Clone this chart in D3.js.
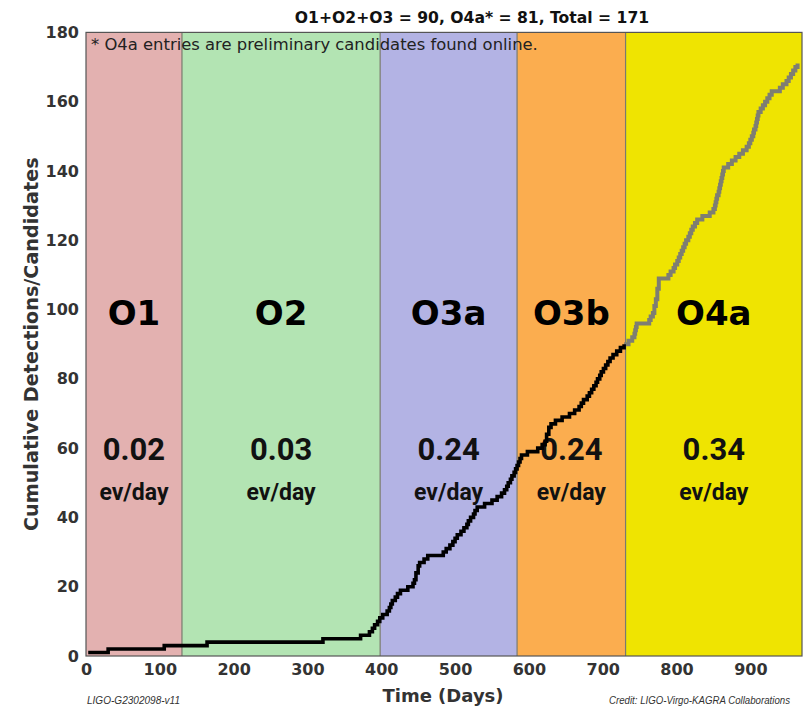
<!DOCTYPE html>
<html>
<head>
<meta charset="utf-8">
<script src="https://cdn.jsdelivr.net/npm/d3@7"></script>
<style>
  html, body { margin: 0; padding: 0; background: #fff; }
  svg { display: block; }
</style>
</head>
<body>
<svg id="chart" width="812" height="708"></svg>
<script>
// Observing runs: name, start/end (cumulative observing days), fill, rate label
const runNames  = ["O1", "O2", "O3a", "O3b", "O4a"];
const runStarts = [0, 130, 398.5, 584, 731];
const runEnds   = [130, 398.5, 584, 731, 970];
const runColors = ["#e3b1b0", "#b3e4b3", "#b3b3e4", "#fbad4f", "#efe401"];
const runRates  = ["0.02", "0.03", "0.24", "0.24", "0.34"];

// Confirmed detections (O1–O3): cumulative count vs observing day
const confirmedDays = [3, 30, 106, 164, 321, 372, 384, 388, 391, 395, 398,
  402, 408, 411, 413, 415, 419, 422, 426, 436, 443, 445, 447, 450, 452, 458, 463,
  484, 488, 493, 497, 500, 503, 508, 512, 516, 518, 521, 525, 527, 530, 540, 550,
  557, 563, 567, 570, 572, 575, 577, 580, 582, 584,
  586, 588, 590, 598, 612, 618, 622, 624, 627, 630, 636, 645, 655, 662, 668, 671,
  674, 679, 682, 685, 688, 691, 693, 696, 698, 701, 704, 707, 710, 714, 719, 724, 729];
const confirmedCounts = [1, 2, 3, 4, 5, 6, 7, 8, 9, 10, 11,
  12, 13, 14, 15, 16, 17, 18, 19, 20, 21, 22, 24, 26, 27, 28, 29,
  30, 31, 32, 33, 34, 35, 36, 37, 38, 39, 40, 41, 42, 43, 44, 45,
  46, 47, 48, 49, 50, 51, 52, 53, 54, 55,
  56, 57, 58, 59, 60, 61, 62, 64, 66, 67, 68, 69, 70, 71, 72, 73,
  74, 75, 76, 77, 78, 79, 80, 81, 82, 83, 84, 85, 86, 87, 88, 89, 90];

// Preliminary O4a candidates (online), continuing the cumulative count
const candidateDays = [729, 735, 740, 743, 744, 745, 746, 763, 765, 768, 770, 772, 774,
  776, 789, 792, 796, 798, 801, 803, 805, 807, 809, 811, 813, 816, 818, 820, 822,
  825, 828, 835, 845, 850, 852, 853, 854, 855, 857, 858, 859, 860, 861, 862, 863,
  864, 870, 875, 880, 885, 890, 895, 898, 900, 902, 904, 905, 907, 908, 909, 910,
  911, 914, 917, 920, 923, 926, 929, 940, 944, 949, 952, 955, 958, 961, 964];
const candidateCounts = [90, 91, 92, 93, 94, 95, 96, 97, 98, 99, 101, 103, 106,
  109, 110, 111, 112, 113, 114, 115, 116, 117, 118, 119, 120, 121, 122, 123, 124,
  125, 126, 127, 128, 129, 130, 131, 132, 133, 134, 135, 136, 137, 138, 139, 140,
  141, 142, 143, 144, 145, 146, 147, 148, 149, 150, 151, 152, 153, 154, 155, 156,
  157, 158, 159, 160, 161, 162, 163, 164, 165, 166, 167, 168, 169, 170, 171];

const xTicks = [0, 100, 200, 300, 400, 500, 600, 700, 800, 900];
const yTicks = [0, 20, 40, 60, 80, 100, 120, 140, 160, 180];

const titleText = "O1+O2+O3 = 90, O4a* = 81, Total = 171";
const noteText = "* O4a entries are preliminary candidates found online.";

// ---- layout ----
const svg = d3.select("#chart");
const W = 812, H = 708;
const m = { left: 86, right: 10, top: 32.4, bottom: 52 };

const x = d3.scaleLinear().domain([0, 970]).range([m.left, W - m.right]);
const y = d3.scaleLinear().domain([0, 180]).range([H - m.bottom, m.top]);

const runs = runNames.map((n, i) => ({
  name: n, start: runStarts[i], end: runEnds[i], color: runColors[i], rate: runRates[i]
}));

// run bands
svg.append("g").selectAll("rect").data(runs).join("rect")
  .attr("x", d => x(d.start))
  .attr("y", y(180))
  .attr("width", d => x(d.end) - x(d.start))
  .attr("height", y(0) - y(180))
  .attr("fill", d => d.color);

// band separators
svg.append("g").selectAll("line").data(runs.slice(1)).join("line")
  .attr("x1", d => x(d.start)).attr("x2", d => x(d.start))
  .attr("y1", y(180)).attr("y2", y(0))
  .attr("stroke", "#7a7a6e").attr("stroke-width", 1.2);

// run names and rates
const labels = svg.append("g").selectAll("g").data(runs).join("g")
  .attr("transform", d => `translate(${(x(d.start) + x(d.end)) / 2},0)`);
labels.append("text")
  .attr("y", 325)
  .attr("text-anchor", "middle")
  .attr("font-family", "DejaVu Sans")
  .attr("font-weight", "bold")
  .attr("font-size", 34)
  .attr("fill", "#000")
  .text(d => d.name);
labels.append("text")
  .attr("y", 460)
  .attr("text-anchor", "middle")
  .attr("font-family", "Roboto")
  .attr("font-weight", "bold")
  .attr("font-size", 31)
  .attr("fill", "#111")
  .text(d => d.rate);
labels.append("text")
  .attr("y", 500)
  .attr("text-anchor", "middle")
  .attr("font-family", "Roboto")
  .attr("font-weight", "bold")
  .attr("font-size", 23)
  .attr("fill", "#111")
  .text("ev/day");

// cumulative curves
const line = d3.line()
  .x(d => x(d[0]))
  .y(d => y(d[1]))
  .curve(d3.curveStepAfter);

const confirmed = confirmedDays.map((d, i) => [d, confirmedCounts[i]]);
const candidates = candidateDays.map((d, i) => [d, candidateCounts[i]]);

svg.append("path")
  .datum(candidates)
  .attr("d", line)
  .attr("fill", "none")
  .attr("stroke", "#7e7e72")
  .attr("stroke-width", 4)
  .attr("stroke-linejoin", "miter");

svg.append("path")
  .datum(confirmed)
  .attr("d", line)
  .attr("fill", "none")
  .attr("stroke", "#000")
  .attr("stroke-width", 3.6)
  .attr("stroke-linejoin", "miter");

// frame
svg.append("rect")
  .attr("x", x(0)).attr("y", y(180))
  .attr("width", x(970) - x(0)).attr("height", y(0) - y(180))
  .attr("fill", "none").attr("stroke", "#555").attr("stroke-width", 1.2);

// axes
const xAxis = d3.axisBottom(x).tickValues(xTicks).tickSize(0).tickPadding(8);
const yAxis = d3.axisLeft(y).tickValues(yTicks).tickSize(0).tickPadding(7);

const gx = svg.append("g").attr("transform", `translate(0,${y(0)})`).call(xAxis);
const gy = svg.append("g").attr("transform", `translate(${x(0)},0)`).call(yAxis);
[gx, gy].forEach(g => {
  g.select(".domain").remove();
  g.selectAll("text")
    .attr("font-family", "DejaVu Sans")
    .attr("font-weight", "bold")
    .attr("font-size", 16)
    .attr("fill", "#333");
});

// titles
svg.append("text")
  .attr("x", 472).attr("y", 23)
  .attr("text-anchor", "middle")
  .attr("font-family", "DejaVu Sans").attr("font-weight", "bold")
  .attr("font-size", 15.6).attr("fill", "#111")
  .text(titleText);

svg.append("text")
  .attr("x", 91).attr("y", 50)
  .attr("font-family", "DejaVu Sans")
  .attr("font-size", 16.4).attr("fill", "#222")
  .text(noteText);

svg.append("text")
  .attr("transform", `translate(38,${(y(0) + y(180)) / 2}) rotate(-90)`)
  .attr("text-anchor", "middle")
  .attr("font-family", "DejaVu Sans").attr("font-weight", "bold")
  .attr("font-size", 19.2).attr("fill", "#333")
  .text("Cumulative Detections/Candidates");

svg.append("text")
  .attr("x", 443).attr("y", 702)
  .attr("text-anchor", "middle")
  .attr("font-family", "DejaVu Sans").attr("font-weight", "bold")
  .attr("font-size", 18).attr("fill", "#333")
  .text("Time (Days)");

svg.append("text")
  .attr("x", 87).attr("y", 704)
  .attr("font-family", "Liberation Sans").attr("font-style", "italic")
  .attr("font-size", 10).attr("fill", "#333")
  .attr("textLength", 93).attr("lengthAdjust", "spacingAndGlyphs")
  .text("LIGO-G2302098-v11");

svg.append("text")
  .attr("x", 609).attr("y", 704)
  .attr("font-family", "Liberation Sans").attr("font-style", "italic")
  .attr("font-size", 10).attr("fill", "#333")
  .attr("textLength", 181).attr("lengthAdjust", "spacingAndGlyphs")
  .text("Credit: LIGO-Virgo-KAGRA Collaborations");
</script>
</body>
</html>
